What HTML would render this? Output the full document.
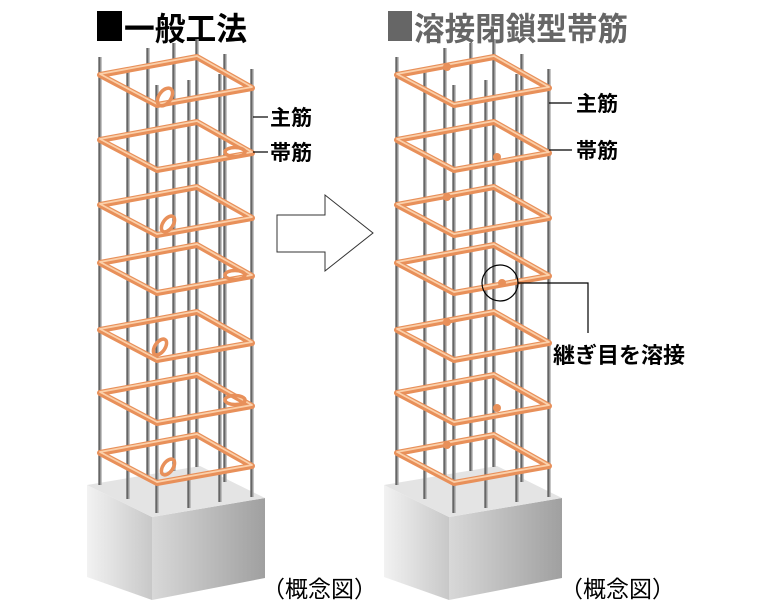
<!DOCTYPE html>
<html><head><meta charset="utf-8"><style>
html,body{margin:0;padding:0;background:#fff;}
svg{display:block;}
text{font-family:"Liberation Sans","Noto Sans CJK JP",sans-serif;}
</style></head><body>
<svg width="780" height="607" viewBox="0 0 780 607" xmlns="http://www.w3.org/2000/svg">
<defs>
<linearGradient id="lf" x1="0" x2="1" y1="0" y2="0"><stop offset="0" stop-color="#f2f2f2"/><stop offset="1" stop-color="#c8c8c8"/></linearGradient>
<linearGradient id="rf" x1="0" x2="1" y1="0" y2="0"><stop offset="0" stop-color="#d8d8d8"/><stop offset="1" stop-color="#a0a0a0"/></linearGradient>
<g id="block">
<polygon points="87,485 152,517 152,600 87,577" fill="url(#lf)"/>
<polygon points="152,517 265,498 265,578 152,600" fill="url(#rf)"/>
<polygon points="87,485 152,517 265,498 200,466" fill="#e4e4e4"/>
</g>
<g id="bars" stroke="#666" stroke-width="3.4">
<line x1="197" y1="39" x2="197" y2="467"/>
<line x1="148" y1="48" x2="148" y2="476"/>
<line x1="174" y1="43" x2="174" y2="471"/>
<line x1="225" y1="54" x2="225" y2="482"/>
<line x1="100" y1="57" x2="100" y2="485"/>
<line x1="128" y1="71" x2="128" y2="499"/>
<line x1="157" y1="85" x2="157" y2="513"/>
<line x1="189" y1="80" x2="189" y2="508"/>
<line x1="220" y1="74" x2="220" y2="502"/>
<line x1="252" y1="69" x2="252" y2="497"/>
</g>
<g id="barsH" stroke="#c8c8c8" stroke-width="1">
<line x1="198" y1="39" x2="198" y2="467"/>
<line x1="149" y1="48" x2="149" y2="476"/>
<line x1="175" y1="43" x2="175" y2="471"/>
<line x1="226" y1="54" x2="226" y2="482"/>
<line x1="101" y1="57" x2="101" y2="485"/>
<line x1="129" y1="71" x2="129" y2="499"/>
<line x1="158" y1="85" x2="158" y2="513"/>
<line x1="190" y1="80" x2="190" y2="508"/>
<line x1="221" y1="74" x2="221" y2="502"/>
<line x1="253" y1="69" x2="253" y2="497"/>
</g>
<g id="ring" fill="none" stroke-linejoin="round">
<polygon points="100,75 157,105 252,88 197,57" stroke="#e8905a" stroke-width="6"/>
<polygon points="100,75 157,105 252,88 197,57" stroke="#fbd0aa" stroke-width="1.8" transform="translate(0,-1)"/>
</g>
<g id="rings">
<use href="#ring"/>
<use href="#ring" y="65"/>
<use href="#ring" y="130"/>
<use href="#ring" y="188"/>
<use href="#ring" y="255"/>
<use href="#ring" y="318"/>
<use href="#ring" y="378"/>
</g>
</defs>

<rect x="97" y="11" width="25" height="30" fill="#000"/>
<text x="124" y="40" font-size="32" font-weight="bold" fill="#000" textLength="123" lengthAdjust="spacingAndGlyphs">一般工法</text>
<rect x="388" y="11" width="24" height="30" fill="#666"/>
<text x="414" y="40" font-size="32" font-weight="bold" fill="#666" textLength="214" lengthAdjust="spacingAndGlyphs">溶接閉鎖型帯筋</text>

<!-- left column -->
<use href="#block"/>
<use href="#bars"/>
<use href="#barsH"/>
<use href="#rings"/>
<g fill="none" stroke="#e8905a" stroke-width="3.5">
<ellipse cx="165" cy="97" rx="6" ry="10" transform="rotate(35 165 97)"/>
<ellipse cx="235" cy="152" rx="10" ry="4.5"/>
<ellipse cx="168" cy="224" rx="5" ry="9" transform="rotate(35 168 224)"/>
<ellipse cx="235" cy="275" rx="10" ry="4.5"/>
<ellipse cx="160" cy="347" rx="5" ry="9" transform="rotate(35 160 347)"/>
<ellipse cx="235" cy="400" rx="10" ry="4.5"/>
<ellipse cx="168" cy="467" rx="5" ry="9" transform="rotate(35 168 467)"/>
</g>

<!-- right column -->
<g transform="translate(297,0)">
<use href="#block"/>
<use href="#bars"/>
<use href="#barsH"/>
<use href="#rings"/>
<g fill="#e8905a">
<circle cx="150" cy="67" r="4"/><circle cx="200" cy="157" r="4"/>
<circle cx="150" cy="197" r="4"/><circle cx="205" cy="283" r="4"/>
<circle cx="150" cy="322" r="4"/><circle cx="200" cy="408" r="4"/>
<circle cx="150" cy="445" r="4"/>
</g>
</g>

<!-- arrow -->
<polygon points="277,215 325,215 325,195 373,233 325,271 325,252 277,252" fill="#fff" stroke="#333" stroke-width="1"/>

<!-- labels -->
<g stroke="#000" stroke-width="1.2" fill="none">
<line x1="253" y1="117" x2="268" y2="117"/>
<line x1="253" y1="152" x2="268" y2="152"/>
<line x1="549" y1="103" x2="572" y2="103"/>
<line x1="549" y1="150" x2="572" y2="150"/>
<circle cx="500" cy="283" r="18"/>
<polyline points="518,283 588,283 588,333"/>
</g>
<g font-size="21" fill="#000" font-weight="bold">
<text x="270" y="125">主筋</text>
<text x="270" y="160">帯筋</text>
<text x="576" y="111">主筋</text>
<text x="576" y="158">帯筋</text>
<text x="553" y="363" font-size="22">継ぎ目を溶接</text>
</g>
<text x="262" y="597" font-size="23" fill="#000">（概念図）</text>
<text x="560" y="597" font-size="23" fill="#000">（概念図）</text>
</svg>
</body></html>
